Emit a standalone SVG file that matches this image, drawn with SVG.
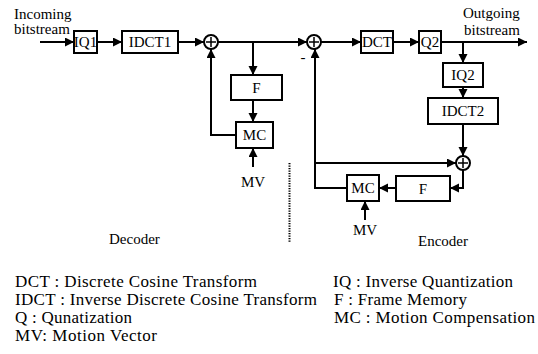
<svg xmlns="http://www.w3.org/2000/svg" width="538" height="354" viewBox="0 0 538 354" font-family="'Liberation Serif', 'DejaVu Serif', 'Times New Roman', serif">
<style>
text{font-family:'Liberation Serif','DejaVu Serif','Times New Roman',serif;fill:#000}
.lbl{font-size:15px;text-anchor:middle}
.t{font-size:15px}
.leg{font-size:17px}
.box{fill:#fff;stroke:#000;stroke-width:2}
.sum{fill:#fff;stroke:#000;stroke-width:2}
.ln{fill:none;stroke:#000;stroke-width:1.5}
.arr{fill:none;stroke:#000;stroke-width:2;marker-end:url(#ah)}
</style>
<defs>
<marker id="ah" markerUnits="userSpaceOnUse" markerWidth="10" markerHeight="10" refX="9" refY="4.5" orient="auto">
<path d="M0,0 L9,4.5 L0,9 Z" fill="#000"/>
</marker>
</defs>
<rect width="538" height="354" fill="#fff"/>
<g id="connectors">
<line class="arr" x1="40" y1="42" x2="74" y2="42"/>
<line class="arr" x1="97" y1="42" x2="122" y2="42"/>
<line class="arr" x1="178" y1="42" x2="204" y2="42"/>
<line class="arr" x1="218" y1="42" x2="307" y2="42"/>
<line class="arr" x1="253" y1="42" x2="253" y2="75"/>
<line class="arr" x1="253" y1="100" x2="253" y2="122"/>
<polyline class="arr" points="236,135 211,135 211,49"/>
<line class="arr" x1="253" y1="167" x2="253" y2="148"/>
<line class="arr" x1="321" y1="42" x2="361" y2="42"/>
<line class="arr" x1="393" y1="42" x2="419" y2="42"/>
<line class="arr" x1="441" y1="42" x2="527" y2="42"/>
<line class="arr" x1="463" y1="42" x2="463" y2="63"/>
<line class="arr" x1="463" y1="87" x2="463" y2="98"/>
<line class="arr" x1="463" y1="124" x2="463" y2="156"/>
<polyline class="arr" points="347,188 315,188 315,49"/>
<line class="arr" x1="315" y1="163" x2="456" y2="163"/>
<polyline class="arr" points="463,170 463,188 450,188"/>
<line class="arr" x1="396" y1="188" x2="379" y2="188"/>
<line class="arr" x1="365" y1="220" x2="365" y2="201"/>
<line x1="289.5" y1="163" x2="289.5" y2="242" stroke="#000" stroke-width="2" stroke-dasharray="1.2,1.3"/>
</g>
<g id="iq1"><rect class="box" x="74" y="31" width="23" height="22"/><text class="lbl" x="85.5" y="47">IQ1</text></g>
<g id="idct1"><rect class="box" x="122" y="31" width="56" height="22"/><text class="lbl" x="150" y="47">IDCT1</text></g>
<g id="sum1"><circle class="sum" cx="211" cy="42" r="7"/><path class="ln" d="M206,42 H216 M211,37 V47"/></g>
<g id="f1"><rect class="box" x="231" y="75" width="51" height="25"/><text class="lbl" x="256.5" y="93">F</text></g>
<g id="mc1"><rect class="box" x="236" y="122" width="37" height="26"/><text class="lbl" x="254.5" y="140">MC</text></g>
<g id="sum2"><circle class="sum" cx="314" cy="42" r="7"/><path class="ln" d="M309,42 H319 M314,37 V47"/></g>
<g id="dct"><rect class="box" x="361" y="31" width="32" height="22"/><text class="lbl" x="377" y="47">DCT</text></g>
<g id="q2"><rect class="box" x="419" y="31" width="22" height="22"/><text class="lbl" x="430" y="47">Q2</text></g>
<g id="iq2"><rect class="box" x="443" y="63" width="40" height="24"/><text class="lbl" x="463" y="80">IQ2</text></g>
<g id="idct2"><rect class="box" x="428" y="98" width="70" height="26"/><text class="lbl" x="463" y="116">IDCT2</text></g>
<g id="sum3"><circle class="sum" cx="463" cy="163" r="7"/><path class="ln" d="M458,163 H468 M463,158 V168"/></g>
<g id="f2"><rect class="box" x="396" y="176" width="54" height="25"/><text class="lbl" x="423" y="194">F</text></g>
<g id="mc2"><rect class="box" x="347" y="175" width="32" height="26"/><text class="lbl" x="363" y="193">MC</text></g>
<g id="labels">
<text class="t" x="14" y="19">Incoming</text>
<text class="t" x="14" y="34">bitstream</text>
<text class="t" x="463" y="18">Outgoing</text>
<text class="t" x="464" y="35">bitstream</text>
<text class="t" x="303" y="62" text-anchor="middle">-</text>
<text class="lbl" x="253" y="187">MV</text>
<text class="lbl" x="365" y="235">MV</text>
<text class="t" x="109" y="244">Decoder</text>
<text class="t" x="418" y="246">Encoder</text>
</g>
<g id="legend">
<text class="leg" x="15" y="287" textLength="242" lengthAdjust="spacing">DCT : Discrete Cosine Transform</text>
<text class="leg" x="15" y="305" textLength="302" lengthAdjust="spacing">IDCT : Inverse Discrete Cosine Transform</text>
<text class="leg" x="15" y="323" textLength="117" lengthAdjust="spacing">Q : Qunatization</text>
<text class="leg" x="15" y="341" textLength="142" lengthAdjust="spacing">MV: Motion Vector</text>
<text class="leg" x="333" y="287" textLength="180" lengthAdjust="spacing">IQ : Inverse Quantization</text>
<text class="leg" x="334" y="305" textLength="133" lengthAdjust="spacing">F : Frame Memory</text>
<text class="leg" x="334" y="323" textLength="201" lengthAdjust="spacing">MC : Motion Compensation</text>
</g>
</svg>
